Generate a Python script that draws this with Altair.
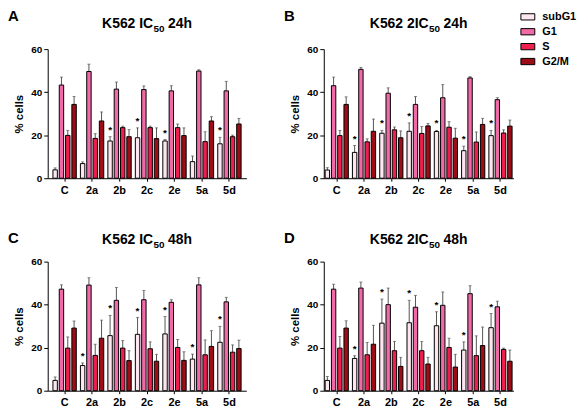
import altair as alt
import pandas as pd

categories = ["C", "2a", "2b", "2c", "2e", "5a", "5d"]
phases = ["subG1", "G1", "S", "G2/M"]
colors = ["#fde6f0", "#f06aa8", "#ee1f4e", "#9c0d18"]

# title pieces: main text, subscript, trailing text
title_main = ["K562 IC", "K562 2IC", "K562 IC", "K562 2IC"]
title_sub = ["50", "50", "50", "50"]
title_tail = ["24h", "24h", "48h", "48h"]
letters = ["A", "B", "C", "D"]

# Panel A: K562 IC50 24h (mean, upper end of error bar)
a_subG1 = [3.9, 6.8, 17.3, 18.8, 17.3, 7.7, 16.0]
a_subG1_up = [4.8, 7.6, 19.3, 23.4, 18.0, 10.3, 19.0]
a_G1 = [43.3, 49.6, 41.4, 41.2, 40.6, 49.8, 40.6]
a_G1_up = [47.0, 53.0, 44.7, 42.9, 43.0, 50.4, 45.0]
a_S = [19.9, 18.5, 23.5, 23.5, 23.5, 17.0, 19.3]
a_S_up = [22.2, 20.7, 24.2, 24.2, 25.2, 21.6, 20.0]
a_G2M = [34.3, 26.6, 19.3, 18.4, 19.8, 26.6, 25.2]
a_G2M_up = [38.0, 30.8, 22.6, 23.4, 23.4, 28.6, 27.8]
a_star = ["2b", "2c", "2e", "5d"]

# Panel B: K562 2IC50 24h
b_subG1 = [3.8, 12.0, 20.9, 21.8, 21.7, 12.8, 19.8]
b_subG1_up = [4.9, 15.2, 22.2, 25.7, 22.2, 14.9, 22.2]
b_G1 = [43.0, 50.6, 39.5, 34.3, 37.4, 46.6, 36.5]
b_G1_up = [47.0, 51.5, 42.0, 38.0, 43.5, 47.2, 37.4]
b_S = [19.8, 16.9, 22.5, 20.8, 23.7, 16.8, 21.0]
b_S_up = [22.2, 18.3, 23.8, 24.0, 26.3, 21.5, 22.5]
b_G2M = [34.3, 21.8, 18.8, 24.3, 18.6, 25.0, 24.2]
b_G2M_up = [37.8, 27.5, 22.0, 25.4, 23.2, 27.8, 27.0]
b_star = ["2a", "2b", "2c", "2e", "5a", "5d"]

# Panel C: K562 IC50 48h
c_subG1 = [4.8, 11.7, 25.6, 26.2, 26.4, 14.7, 22.5]
c_subG1_up = [6.4, 12.9, 35.0, 34.0, 34.5, 17.0, 29.9]
c_G1 = [47.2, 49.1, 42.0, 42.3, 41.1, 49.2, 41.3]
c_G1_up = [49.2, 52.5, 48.0, 46.6, 42.3, 52.5, 43.4]
c_S = [19.8, 16.4, 19.8, 19.5, 20.1, 16.7, 17.9]
c_S_up = [25.0, 21.6, 23.3, 22.7, 23.8, 23.6, 21.3]
c_G2M = [29.1, 24.4, 14.0, 13.7, 14.1, 20.6, 19.6]
c_G2M_up = [32.4, 32.8, 18.6, 16.9, 18.1, 27.9, 23.5]
c_star = ["2a", "2b", "2c", "2e", "5a", "5d"]

# Panel D: K562 2IC50 48h
d_subG1 = [4.8, 15.0, 31.4, 31.6, 30.2, 18.9, 29.3]
d_subG1_up = [6.6, 16.3, 42.6, 42.0, 36.7, 22.7, 35.9]
d_G1 = [47.2, 47.7, 40.0, 38.8, 39.7, 45.1, 39.0]
d_G1_up = [49.5, 50.5, 47.7, 44.3, 45.9, 48.8, 41.6]
d_S = [19.8, 16.7, 18.6, 18.6, 20.1, 16.3, 19.2]
d_S_up = [25.2, 22.4, 22.9, 22.9, 24.4, 25.5, 19.8]
d_G2M = [29.1, 21.6, 11.3, 12.4, 11.0, 21.0, 13.7]
d_G2M_up = [32.5, 30.4, 15.5, 15.5, 16.9, 29.6, 18.9]
d_star = ["2a", "2b", "2c", "2e", "5a", "5d"]

panels = [
    ([a_subG1, a_G1, a_S, a_G2M], [a_subG1_up, a_G1_up, a_S_up, a_G2M_up], a_star),
    ([b_subG1, b_G1, b_S, b_G2M], [b_subG1_up, b_G1_up, b_S_up, b_G2M_up], b_star),
    ([c_subG1, c_G1, c_S, c_G2M], [c_subG1_up, c_G1_up, c_S_up, c_G2M_up], c_star),
    ([d_subG1, d_G1, d_S, d_G2M], [d_subG1_up, d_G1_up, d_S_up, d_G2M_up], d_star),
]

FONT = "Liberation Sans"
TFS = 14      # title font size
SFS = 10      # subscript font size


def text_w(s, fs):
    # approximate Arial-bold advance widths
    wmap = {" ": 0.278, "I": 0.278, "K": 0.722, "C": 0.722, "h": 0.611}
    return sum(wmap.get(ch, 0.556) for ch in s) * fs


def panel_df(vals, ups, stars):
    rows = []
    for pi, ph in enumerate(phases):
        for ci, cat in enumerate(categories):
            rows.append({
                "cat": cat, "phase": ph,
                "value": vals[pi][ci], "upper": ups[pi][ci],
                "star": (ph == "subG1" and cat in stars),
            })
    return pd.DataFrame(rows)


def make_panel(idx, width, pad_outer, letter_y, title_y):
    vals, ups, stars = panels[idx]
    df = panel_df(vals, ups, stars)
    base = alt.Chart(df).encode(
        x=alt.X("cat:N", sort=categories,
                scale=alt.Scale(paddingInner=0.15, paddingOuter=pad_outer),
                axis=alt.Axis(title=None, labelAngle=0, labelFontSize=11,
                              labelFontWeight="bold", labelColor="black",
                              tickSize=3, labelPadding=3,
                              domainColor="black", tickColor="black")),
        xOffset=alt.XOffset("phase:N", sort=phases,
                            scale=alt.Scale(paddingInner=0.3)),
    )
    yenc = alt.Y("value:Q", scale=alt.Scale(domain=[0, 60]),
                 axis=alt.Axis(title="% cells", values=[0, 10, 20, 30, 40, 50, 60],
                               grid=False, labelFontSize=10, labelFontWeight="bold",
                               labelColor="black", titleFontSize=11.5,
                               titleFontWeight="bold", titleColor="black",
                               titlePadding=6, tickSize=4,
                               domainColor="black", tickColor="black"))
    err = base.mark_rule(color="#555555", strokeWidth=1).encode(
        y=yenc, y2="upper:Q")
    cap = base.mark_tick(color="#555555", size=3, thickness=1).encode(
        y="upper:Q")
    bars = base.mark_bar(stroke="black", strokeWidth=1).encode(
        y=yenc,
        color=alt.Color("phase:N", sort=phases,
                        scale=alt.Scale(domain=phases, range=colors),
                        legend=alt.Legend(title=None)),
    )
    star = base.transform_filter("datum.star").mark_text(
        text="*", baseline="bottom", dy=-2, fontSize=10, font=FONT,
        fontWeight="bold", color="black").encode(y="upper:Q")
    lab = pd.DataFrame({"t": [letters[idx]], "m": [title_main[idx]],
                        "s": [title_sub[idx]], "e": [title_tail[idx]]})
    letter = alt.Chart(lab).mark_text(
        align="left", baseline="top", fontSize=15, fontWeight="bold",
        font=FONT, color="black").encode(
        x=alt.value(-40), y=alt.value(letter_y), text="t:N")
    w_main = text_w(title_main[idx], TFS)
    w_sub = text_w(title_sub[idx], SFS)
    w_gap = text_w(" ", TFS)
    w_tail = text_w(title_tail[idx], TFS)
    p = width / 2 - (w_main + w_sub + w_gap + w_tail) / 2 + w_main
    tmark = dict(baseline="alphabetic", fontWeight="bold", font=FONT, color="black")
    t1 = alt.Chart(lab).mark_text(align="right", fontSize=TFS, **tmark).encode(
        x=alt.value(p), y=alt.value(title_y), text="m:N")
    t2 = alt.Chart(lab).mark_text(align="left", fontSize=SFS, **tmark).encode(
        x=alt.value(p + 0.5), y=alt.value(title_y + 4), text="s:N")
    t3 = alt.Chart(lab).mark_text(align="left", fontSize=TFS, **tmark).encode(
        x=alt.value(p + w_sub + w_gap), y=alt.value(title_y), text="e:N")
    return alt.layer(err, cap, bars, star, letter, t1, t2, t3).properties(
        width=width, height=130)


pA = make_panel(0, 200, 0.19, -40, -21)
pB = make_panel(1, 191, 0.05, -40, -21)
pC = make_panel(2, 200, 0.19, -31, -18)
pD = make_panel(3, 191, 0.05, -31, -18)

chart = alt.concat(
    pA, pB, pC, pD, columns=2, bounds="flush",
    spacing={"row": 84, "column": 78},
).resolve_scale(
    x="independent", y="independent", xOffset="independent", color="shared"
).resolve_legend(color="shared").properties(padding=0).configure_view(
    stroke=None
).configure_legend(
    orient="none", legendX=476, legendY=-40,
    labelFont=FONT, labelFontSize=11, labelFontWeight="bold", labelColor="black",
    symbolType="M-1,-0.45H1V0.45H-1Z", symbolSize=196,
    symbolStrokeColor="black", symbolStrokeWidth=1, symbolOpacity=1,
    rowPadding=2, labelOffset=7,
).configure_axis(labelFont=FONT, titleFont=FONT)

chart.save("out.html", embed_options={"renderer": "svg", "actions": False})
